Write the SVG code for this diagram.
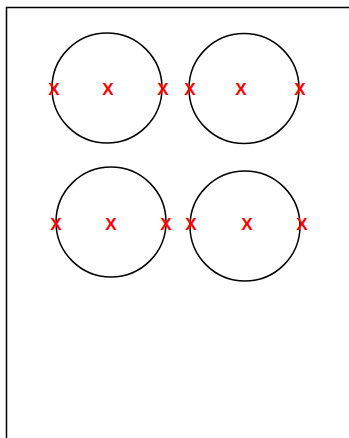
<svg xmlns="http://www.w3.org/2000/svg" width="349" height="438" viewBox="0 0 349 438">
<style>
.c{fill:none;stroke:#000;stroke-width:1.5}
.x{font-family:"Liberation Sans",Arial,sans-serif;font-weight:bold;font-size:17px;fill:#ff0000;text-anchor:middle;dominant-baseline:central}
</style>
<rect x="6.5" y="7.5" width="360" height="450" fill="none" stroke="#000" stroke-width="1.5"/>
<g id="n1"><circle class="c" cx="107" cy="88" r="55"/><text class="x" x="54" y="89">X</text><text class="x" x="108" y="89">X</text><text class="x" x="163" y="89">X</text></g>
<g id="n2"><circle class="c" cx="244" cy="88.5" r="55"/><text class="x" x="190" y="89">X</text><text class="x" x="241" y="89">X</text><text class="x" x="300" y="89">X</text></g>
<g id="n3"><circle class="c" cx="111" cy="222" r="55"/><text class="x" x="56" y="224">X</text><text class="x" x="111" y="224">X</text><text class="x" x="166" y="224">X</text></g>
<g id="n4"><circle class="c" cx="245" cy="226" r="55"/><text class="x" x="191" y="224">X</text><text class="x" x="247" y="224">X</text><text class="x" x="302" y="224">X</text></g>
<g id="connectors"></g>
</svg>
